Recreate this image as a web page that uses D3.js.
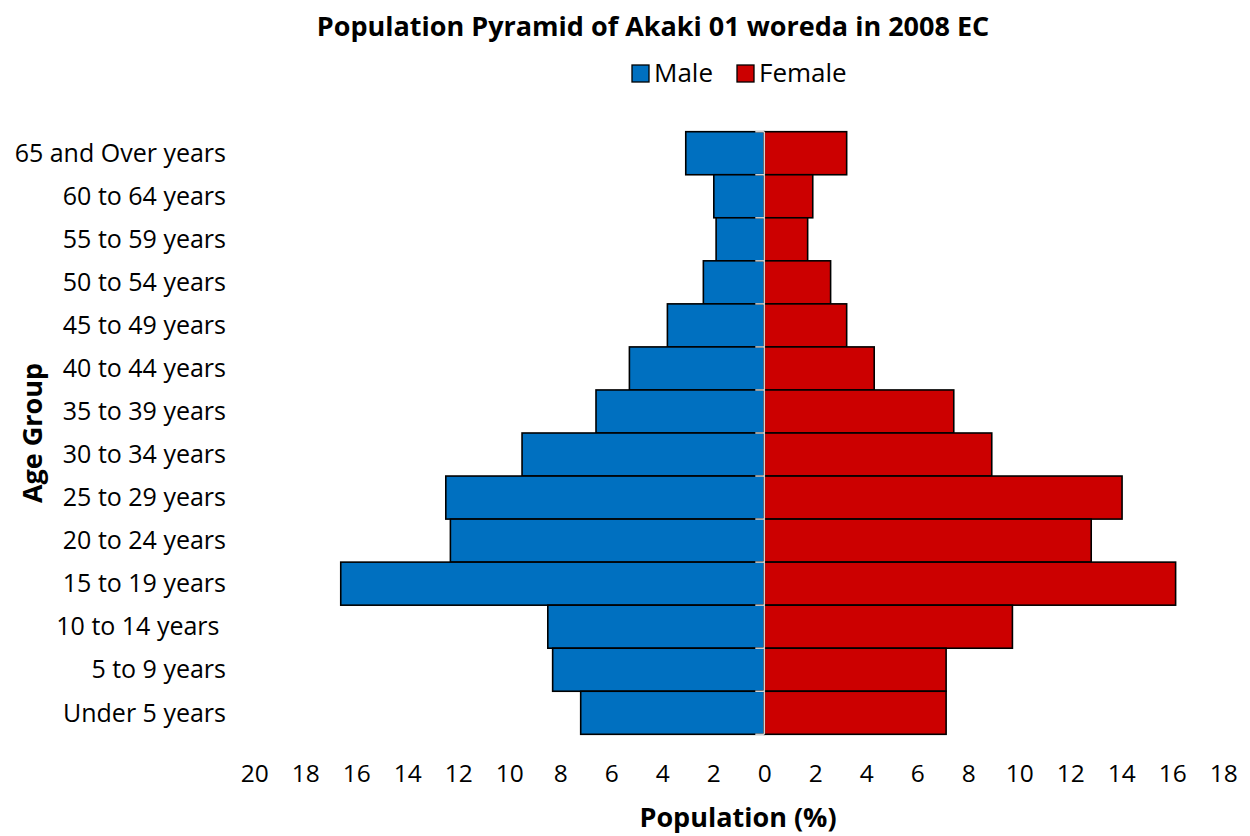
<!DOCTYPE html>
<html>
<head>
<meta charset="utf-8">
<script src="https://cdn.jsdelivr.net/npm/d3@7"></script>
<style>
  html, body { margin: 0; padding: 0; background: #fff; }
  svg { display: block; font-family: "Open Sans", Lato, sans-serif; }
</style>
</head>
<body>
<svg id="chart" width="1250" height="836"></svg>
<script>
const categories = ["65 and Over years","60 to 64 years","55 to 59 years","50 to 54 years","45 to 49 years","40 to 44 years","35 to 39 years","30 to 34 years","25 to 29 years","20 to 24 years","15 to 19 years","10 to 14 years ","5 to 9 years","Under 5 years"];
const maleValues =   [3.08, 1.98, 1.89, 2.39, 3.80, 5.29, 6.60, 9.50, 12.49, 12.31, 16.61, 8.49, 8.30, 7.20];
const femaleValues = [3.23, 1.90, 1.70, 2.60, 3.23, 4.31, 7.43, 8.92, 14.03, 12.82, 16.13, 9.73, 7.13, 7.13];
const xTicks = [-20,-18,-16,-14,-12,-10,-8,-6,-4,-2,0,2,4,6,8,10,12,14,16,18];
const seriesNames = ["Male","Female"];
const colors = {Male: "#0070C0", Female: "#CC0000"};

const svg = d3.select("#chart");
const plotLeft = 254.3, plotRight = 1223.3, plotTop = 131.7, plotBottom = 734.3;
const FONT = "'Open Sans', Lato, sans-serif";

const x = d3.scaleLinear().domain([-20, 18]).range([plotLeft, plotRight]);
const y = d3.scaleBand().domain(categories).range([plotTop, plotBottom]).padding(0);

const g = svg.append("g");

// Male bars
g.selectAll("rect.male").data(categories).enter().append("rect")
  .attr("class","male")
  .attr("x", (d,i) => x(-maleValues[i]))
  .attr("y", d => y(d))
  .attr("width", (d,i) => x(0) - x(-maleValues[i]))
  .attr("height", y.bandwidth())
  .attr("fill", colors.Male)
  .attr("stroke", "#000").attr("stroke-width", 1.6);

// Female bars
g.selectAll("rect.female").data(categories).enter().append("rect")
  .attr("class","female")
  .attr("x", x(0))
  .attr("y", d => y(d))
  .attr("width", (d,i) => x(femaleValues[i]) - x(0))
  .attr("height", y.bandwidth())
  .attr("fill", colors.Female)
  .attr("stroke", "#000").attr("stroke-width", 1.6);

// Vertical category axis line at 0 with tick marks at boundaries
const bounds = d3.range(categories.length + 1).map(i => plotTop + i * y.step());
g.append("line").attr("x1", x(0)).attr("x2", x(0)).attr("y1", plotTop).attr("y2", plotBottom)
  .attr("stroke", "#d0d0d0").attr("stroke-width", 1.5);
g.selectAll("line.tk").data(bounds).enter().append("line")
  .attr("class","tk")
  .attr("x1", x(0) - 9).attr("x2", x(0))
  .attr("y1", d => d).attr("y2", d => d)
  .attr("stroke", "#d0d0d0").attr("stroke-width", 1.5);

// Category labels
svg.append("g").selectAll("text").data(categories).enter().append("text")
  .attr("x", 226)
  .attr("y", d => y(d) + y.bandwidth()/2)
  .attr("dy", "0.35em")
  .attr("text-anchor", "end")
  .attr("font-size", 25)
  .attr("fill", "#000")
  .style("white-space", "pre")
  .text(d => d);

// X axis tick labels
const xAxis = d3.axisBottom(x).tickValues(xTicks).tickSize(0).tickPadding(0)
  .tickFormat(d => Math.abs(d));
const xa = svg.append("g").attr("transform", `translate(0, 773)`).call(xAxis);
xa.select(".domain").remove();
xa.selectAll("text").attr("font-size", 24.5).attr("font-family", FONT)
  .attr("fill", "#000").attr("dy", "0.35em").attr("y", 0);

// Title
svg.append("text").attr("x", 653).attr("y", 27).attr("dy", "0.35em").attr("text-anchor", "middle")
  .attr("font-size", 27).attr("font-weight", "bold").text("Population Pyramid of Akaki 01 woreda in 2008 EC");

// Legend
const legendItems = [{name: seriesNames[0], x: 632}, {name: seriesNames[1], x: 737}];
const lg = svg.append("g");
legendItems.forEach(it => {
  lg.append("rect").attr("x", it.x).attr("y", 65).attr("width", 17).attr("height", 17)
    .attr("fill", colors[it.name]).attr("stroke", "#000").attr("stroke-width", 1.3);
  lg.append("text").attr("x", it.x + 22).attr("y", 73).attr("dy", "0.35em")
    .attr("font-size", 26).text(it.name);
});

// Axis titles
svg.append("text").attr("x", 738).attr("y", 818).attr("dy", "0.35em").attr("text-anchor", "middle")
  .attr("font-size", 27).attr("font-weight", "bold").text("Population (%)");
svg.append("text").attr("transform", "translate(33,433) rotate(-90)").attr("dy", "0.35em")
  .attr("text-anchor", "middle").attr("font-size", 27).attr("font-weight", "bold").text("Age Group");
</script>
</body>
</html>
